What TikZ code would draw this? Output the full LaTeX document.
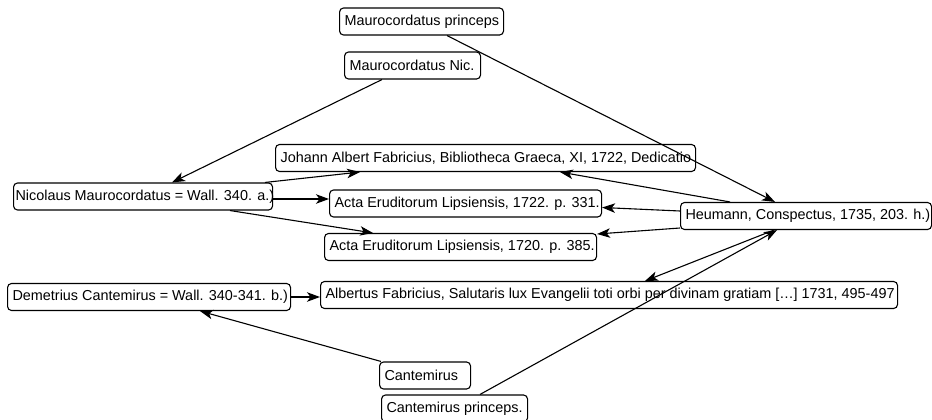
\documentclass[tikz,border=0pt]{standalone}
\usepackage{fontspec}
\setmainfont{Liberation Sans}
\usetikzlibrary{arrows.meta,calc}
\tikzset{
  bx/.style={draw=black, line width=1.1pt, fill=white, rounded corners=4pt, anchor=west,
    inner xsep=5pt, inner ysep=0pt, minimum height=27pt,
    font=\fontsize{14.4}{17}\selectfont},
  arr/.style={line width=1.1pt, -{Stealth[length=13pt,width=9.5pt,inset=3.5pt]}}
}
\newcommand{\bt}[2]{\makebox[#1pt][l]{#2}}
\begin{document}
\begin{tikzpicture}[x=1pt,y=-1pt]
\clip (0,0) rectangle (932,420);
\fill[white] (0,0) rectangle (932,420);
\node[bx, minimum width=164] (mp) at (339,21.5) {\bt{154}{Maurocordatus princeps}};
\node[bx, minimum width=136] (mn) at (344,65.5) {\bt{126}{Maurocordatus Nic.}};
\node[bx, minimum width=420] (jf) at (275,158) {\bt{410}{Johann Albert Fabricius, Bibliotheca Graeca, XI, 1722, Dedicatio}};
\node[bx, minimum width=259, inner xsep=2pt] (nm) at (13,196.5) {\bt{255}{Nicolaus Maurocordatus = Wall. 340. a.)}};
\node[bx, minimum width=272] (a22) at (329,203.5) {\bt{262}{Acta Eruditorum Lipsiensis, 1722. p. 331.}};
\node[bx, minimum width=272] (a20) at (324,247) {\bt{262}{Acta Eruditorum Lipsiensis, 1720. p. 385.}};
\node[bx, minimum width=251] (hm) at (680,216) {\bt{241}{Heumann, Conspectus, 1735, 203. h.)}};
\node[bx, minimum width=283] (dc) at (7,297) {\bt{273}{Demetrius Cantemirus = Wall. 340-341. b.)}};
\node[bx, minimum width=577] (af) at (320,295) {\bt{567}{Albertus Fabricius, Salutaris lux Evangelii toti orbi per divinam gratiam […] 1731, 495-497}};
\node[bx, minimum width=91] (cm) at (379,375.5) {\bt{81}{Cantemirus}};
\node[bx, minimum width=146] (cp) at (381,408.5) {\bt{136}{Cantemirus princeps.}};

\draw[arr] ($(mp.south west)+(108,0)$) -- ($(hm.north west)+(95,0)$);
\draw[arr] ($(mn.south west)+(38,0)$) -- ($(nm.north west)+(159,0)$);
\draw[arr] ($(nm.north west)+(252,0)$) -- ($(jf.south west)+(85,0)$);
\draw[arr] ($(nm.east)+(0,2.5)$) -- ($(a22.west)+(0,-4.5)$);
\draw[arr] ($(nm.south west)+(217,0)$) -- ($(a20.north west)+(49,0)$);
\draw[arr] ($(hm.north west)+(50,0)$) -- ($(jf.south west)+(285,0)$);
\draw[arr] ($(hm.west)+(0,-5)$) -- ($(a22.east)+(0,4)$);
\draw[arr] ($(hm.west)+(0,12)$) -- ($(a20.east)+(0,-13)$);
\draw[arr] ($(hm.south west)+(94,0)$) -- ($(af.north west)+(325,0)$);
\draw[arr] ($(cp.north west)+(99,0)$) -- ($(hm.south west)+(97,0)$);
\draw[arr] (dc.east) -- (dc.east -| af.west);
\draw[arr] ($(cm.north west)+(2,0)$) -- ($(dc.south west)+(193,0)$);
\end{tikzpicture}
\end{document}
